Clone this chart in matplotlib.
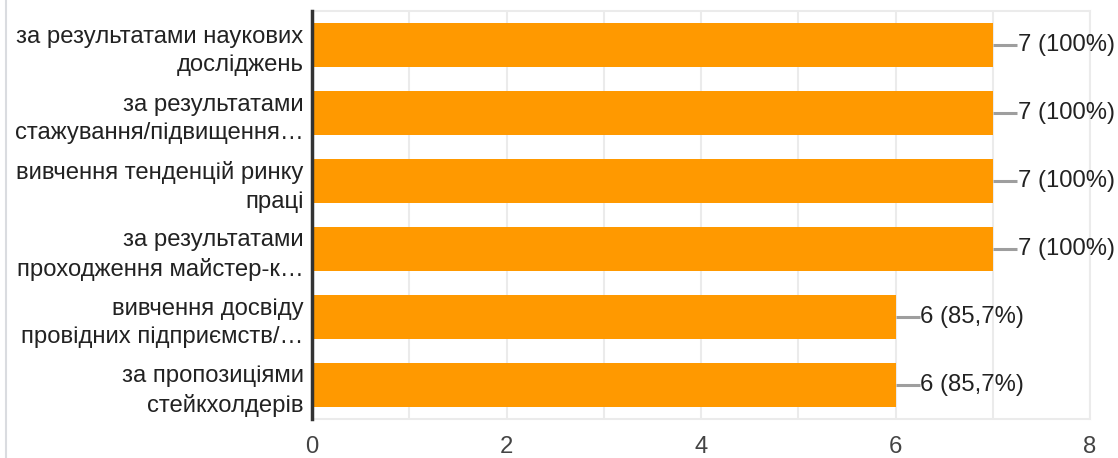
import matplotlib.pyplot as plt
from matplotlib.lines import Line2D

# дані
categories = [
    'за результатами наукових\nдосліджень',
    'за результатами\nстажування/підвищення…',
    'вивчення тенденцій ринку\nпраці',
    'за результатами\nпроходження майстер-к…',
    'вивчення досвіду\nпровідних підприємств/…',
    'за пропозиціями\nстейкхолдерів',
]
counts = [7, 7, 7, 7, 6, 6]
labels = ['7 (100%)', '7 (100%)', '7 (100%)', '7 (100%)', '6 (85,7%)', '6 (85,7%)']
xticks = [0, 2, 4, 6, 8]

plt.rcParams['font.family'] = ['Liberation Sans', 'DejaVu Sans']

fig = plt.figure(figsize=(11.18, 4.58), dpi=100)
ax = fig.add_axes([312 / 1118, 1 - 419 / 458, 778 / 1118, 408 / 458])

y = list(range(len(categories)))
ax.barh(y, counts, height=0.635, color='#ff9900', zorder=3)

for yi, v, lab in zip(y, counts, labels):
    ax.plot([v, v + 0.25], [yi, yi], color='#9e9e9e', lw=2.2, zorder=3, solid_capstyle='butt')
    ax.text(v + 0.255, yi, lab, va='center', ha='left', fontsize=17.2, color='#222222')

ax.set_xlim(0, 8)
ax.set_ylim(len(categories) - 0.5, -0.5)
ax.set_yticks(y)
ax.set_yticklabels(categories, fontsize=17.2, color='#222222', linespacing=1.4)
ax.set_xticks(xticks)
ax.set_xticklabels([str(t) for t in xticks], fontsize=17.2, color='#444444')
ax.tick_params(axis='both', length=0)
ax.tick_params(axis='x', pad=12)
ax.tick_params(axis='y', pad=6)

for gx in range(0, 9):
    ax.axvline(gx, color='#ebebeb', lw=1.5, zorder=1)

for side in ['top', 'bottom', 'right']:
    ax.spines[side].set_color('#ebebeb')
    ax.spines[side].set_linewidth(1.5)
ax.spines['left'].set_color('#333333')
ax.spines['left'].set_linewidth(2.5)
ax.spines['left'].set_zorder(4)

# рамка зліва
fig.add_artist(Line2D([6 / 1118, 6 / 1118], [0, 1], color='#dadce0', lw=1.5))

fig.savefig('out.png', dpi=100)
